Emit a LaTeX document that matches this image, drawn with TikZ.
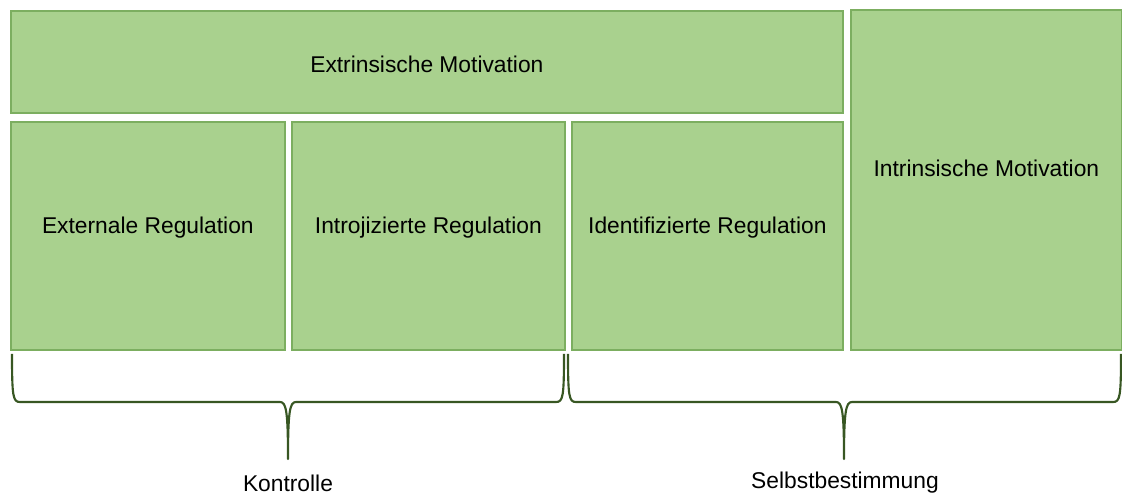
\documentclass[tikz,border=0pt]{standalone}
\usepackage{fontspec}
\setmainfont{Liberation Sans}
\usetikzlibrary{calc}

\definecolor{boxfill}{RGB}{169,209,142}
\definecolor{boxline}{RGB}{124,174,96}
\definecolor{bracegreen}{RGB}{56,87,35}

\begin{document}
\begin{tikzpicture}[x=0.75pt, y=-0.75pt,
	box/.style={draw=boxline, fill=boxfill, line width=1.3pt, rectangle, anchor=north west, inner sep=0pt},
	lbl/.style={font=\fontsize{17.1}{20}\selectfont, text=black, inner sep=0pt},
	klammer/.style={draw=bracegreen, line width=1.6pt, line join=round}]
	\useasboundingbox (0,0) rectangle (1122,495);

	% Boxes
	\node[box, minimum width=832*0.75pt, minimum height=102*0.75pt] (extr) at (10,10) {};
	\node[box, minimum width=271*0.75pt, minimum height=340*0.75pt] (intr) at (850,9) {};
	\node[box, minimum width=274*0.75pt, minimum height=228*0.75pt] (exreg) at (10,121) {};
	\node[box, minimum width=273*0.75pt, minimum height=228*0.75pt] (inreg) at (291,121) {};
	\node[box, minimum width=271*0.75pt, minimum height=228*0.75pt] (idreg) at (571,121) {};

	% Box labels
	\node[lbl] (extrtxt) at ($(extr.center)+(0,2)$) {Extrinsische Motivation};
	\node[lbl] (intrtxt) at ($(intr.center)+(0,-12)$) {Intrinsische Motivation};
	\node[lbl] (exregtxt) at ($(exreg.center)+(0,-8)$) {Externale Regulation};
	\node[lbl] (inregtxt) at ($(inreg.center)+(0,-8)$) {Introjizierte Regulation};
	\node[lbl] (idregtxt) at ($(idreg.center)+(0,-8)$) {Identifizierte Regulation};

	% Brace ends and tips
	\coordinate (kL) at (12,354);
	\coordinate (kR) at (564,354);
	\coordinate (kT) at (288,459);
	\coordinate (sL) at (568,354);
	\coordinate (sR) at (1121,354);
	\coordinate (sT) at (844,459);

	% Brace Kontrolle
	\draw[klammer] (kL) .. controls ($(kL)+(0,43)$) and ($(kL)+(1,48)$) .. ($(kL)+(8,48)$)
		-- ($(kT)+(-8,-57)$) .. controls ($(kT)+(-2,-57)$) and ($(kT)+(0,-49)$) .. (kT)
		.. controls ($(kT)+(0,-49)$) and ($(kT)+(2,-57)$) .. ($(kT)+(8,-57)$)
		-- ($(kR)+(-8,48)$) .. controls ($(kR)+(-1,48)$) and ($(kR)+(0,43)$) .. (kR);

	% Brace Selbstbestimmung
	\draw[klammer] (sL) .. controls ($(sL)+(0,43)$) and ($(sL)+(1,48)$) .. ($(sL)+(8,48)$)
		-- ($(sT)+(-8,-57)$) .. controls ($(sT)+(-2,-57)$) and ($(sT)+(0,-49)$) .. (sT)
		.. controls ($(sT)+(0,-49)$) and ($(sT)+(2,-57)$) .. ($(sT)+(8,-57)$)
		-- ($(sR)+(-8,48)$) .. controls ($(sR)+(-1,48)$) and ($(sR)+(0,43)$) .. (sR);

	% Brace labels
	\node[lbl] (kontr) at ($(kT)+(0,24)$) {Kontrolle};
	\node[lbl] (selbst) at ($(sT)+(1,24)$) {Selbstbestimmung};
\end{tikzpicture}
\end{document}
